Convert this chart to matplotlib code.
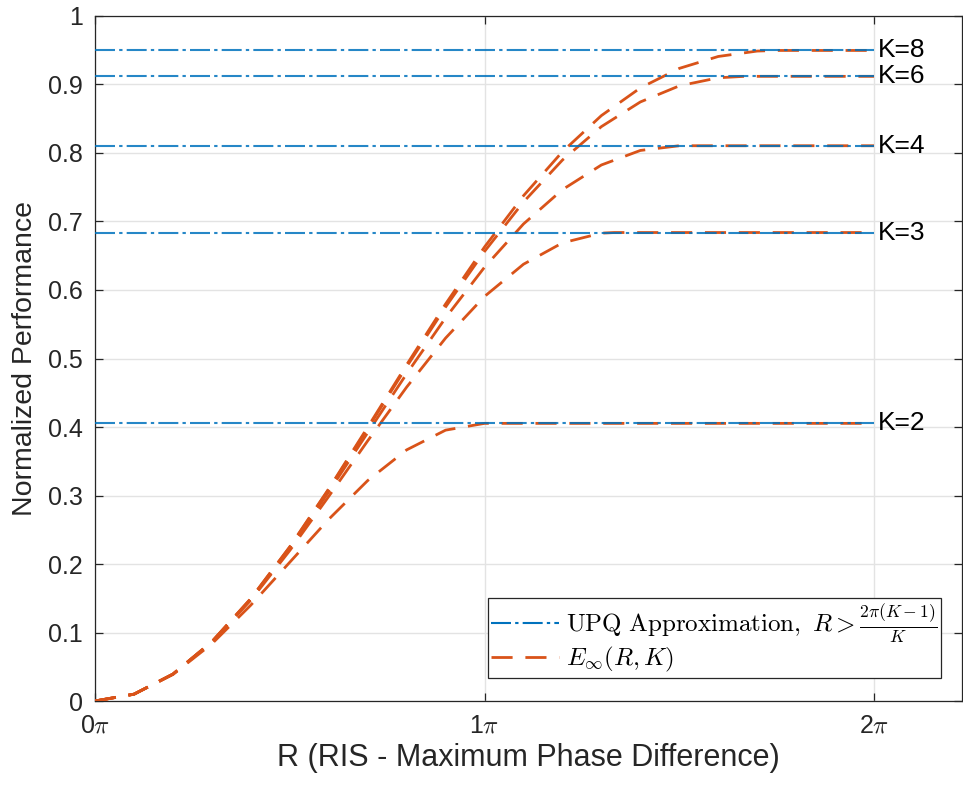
import numpy as np
import matplotlib
matplotlib.use('Agg')
import matplotlib.pyplot as plt
from matplotlib.lines import Line2D

plt.rcParams['font.family'] = ['Liberation Sans', 'DejaVu Sans']
plt.rcParams['mathtext.fontset'] = 'cm'

# phase range R in units of pi
k_values = [2, 3, 4, 6, 8]
upq_levels = [0.4053, 0.6839, 0.8106, 0.9119, 0.9497]

r_k2 = [0, 0.1, 0.2, 0.3, 0.4, 0.5, 0.6, 0.7, 0.8, 0.9, 1.0, 2.0]
e_k2 = [0, 0.0099, 0.0387, 0.0835, 0.1400, 0.2026, 0.2653, 0.3218, 0.3666,
        0.3954, 0.4053, 0.4053]

r_k3 = [0, 0.1, 0.2, 0.3, 0.4, 0.5, 0.6, 0.7, 0.8, 0.9, 1.0, 1.1, 1.2, 1.3,
        1.333, 2.0]
e_k3 = [0, 0.0099, 0.0392, 0.0859, 0.1473, 0.2197, 0.2987, 0.3798, 0.4582,
        0.5298, 0.5906, 0.6376, 0.6688, 0.6830, 0.6839, 0.6839]

r_k4 = [0, 0.1, 0.2, 0.3, 0.4, 0.5, 0.6, 0.7, 0.8, 0.9, 1.0, 1.1, 1.2, 1.3,
        1.4, 1.5, 2.0]
e_k4 = [0, 0.0100, 0.0393, 0.0864, 0.1487, 0.2230, 0.3054, 0.3917, 0.4777,
        0.5594, 0.6333, 0.6964, 0.7465, 0.7825, 0.8037, 0.8106, 0.8106]

r_k6 = [0, 0.1, 0.2, 0.3, 0.4, 0.5, 0.6, 0.7, 0.8, 0.9, 1.0, 1.1, 1.2, 1.3,
        1.4, 1.5, 1.6, 1.667, 2.0]
e_k6 = [0, 0.0100, 0.0393, 0.0866, 0.1494, 0.2247, 0.3089, 0.3979, 0.4880,
        0.5752, 0.6563, 0.7285, 0.7897, 0.8385, 0.8745, 0.8980, 0.9098,
        0.9119, 0.9119]

r_k8 = [0, 0.1, 0.2, 0.3, 0.4, 0.5, 0.6, 0.7, 0.8, 0.9, 1.0, 1.1, 1.2, 1.3,
        1.4, 1.5, 1.6, 1.7, 1.75, 2.0]
e_k8 = [0, 0.0100, 0.0393, 0.0867, 0.1496, 0.2252, 0.3098, 0.3997, 0.4908,
        0.5796, 0.6628, 0.7376, 0.8019, 0.8546, 0.8950, 0.9235, 0.9409,
        0.9488, 0.9497, 0.9497]

curves = [(r_k2, e_k2), (r_k3, e_k3), (r_k4, e_k4), (r_k6, e_k6), (r_k8, e_k8)]

blue = '#0072BD'
orange = '#D95319'
dashdot = (0, (9.6, 2.0, 1.6, 2.0))
dashed = (0, (7.6, 4.6))

fig = plt.figure(figsize=(9.63, 7.88), dpi=100)
ax = fig.add_axes([0.0987, 0.1104, 0.9003, 0.8693])

for (r, e) in curves:
    ax.plot(np.array(r) * np.pi, e, color=orange, lw=2.0, linestyle=dashed,
            zorder=3)

for k, lvl in zip(k_values, upq_levels):
    ax.plot([0, 2 * np.pi], [lvl, lvl], color=blue, lw=1.5, linestyle=dashdot,
            alpha=0.85, zorder=4)
    ax.text(2.01 * np.pi, lvl, f'K={k}', fontsize=19, va='center', ha='left',
            color='black')

ax.set_xlim(0, 2.226 * np.pi)
ax.set_ylim(0, 1)
ax.set_xticks([0, np.pi, 2 * np.pi])
ax.set_xticklabels([r'0$\pi$', r'1$\pi$', r'2$\pi$'])
ax.set_yticks(np.arange(0, 1.01, 0.1))
ax.set_yticklabels(['0', '0.1', '0.2', '0.3', '0.4', '0.5', '0.6', '0.7',
                    '0.8', '0.9', '1'])

ax.grid(True, color='#e3e3e3', lw=1.0)
ax.set_axisbelow(True)
for s in ax.spines.values():
    s.set_color('#262626')
    s.set_linewidth(0.9)
ax.tick_params(direction='in', length=6, width=0.9, colors='#262626',
               labelsize=18, top=True, right=True, pad=9)
for lab in ax.get_xticklabels() + ax.get_yticklabels():
    lab.set_color('#262626')

ax.set_xlabel('R (RIS - Maximum Phase Difference)', fontsize=22,
              color='#262626', labelpad=4)
ax.set_ylabel('Normalized Performance', fontsize=20.5, color='#262626',
              labelpad=7)

handles = [
    Line2D([], [], color=blue, lw=1.5, linestyle=dashdot),
    Line2D([], [], color=orange, lw=2.0, linestyle=dashed),
]
labels = [r'$\mathrm{UPQ\ Approximation},\ R > \frac{2\pi(K-1)}{K}$',
          r'$E_{\infty}(R,K)$']
leg = ax.legend(handles, labels, loc='lower right',
                bbox_to_anchor=(0.976, 0.034), borderaxespad=0,
                fontsize=18, fancybox=False, framealpha=1,
                edgecolor='#262626', handlelength=2.7, handletextpad=0.3,
                labelspacing=0.0, borderpad=0.15)
leg.get_frame().set_linewidth(0.9)

fig.savefig('out.png', dpi=100)
